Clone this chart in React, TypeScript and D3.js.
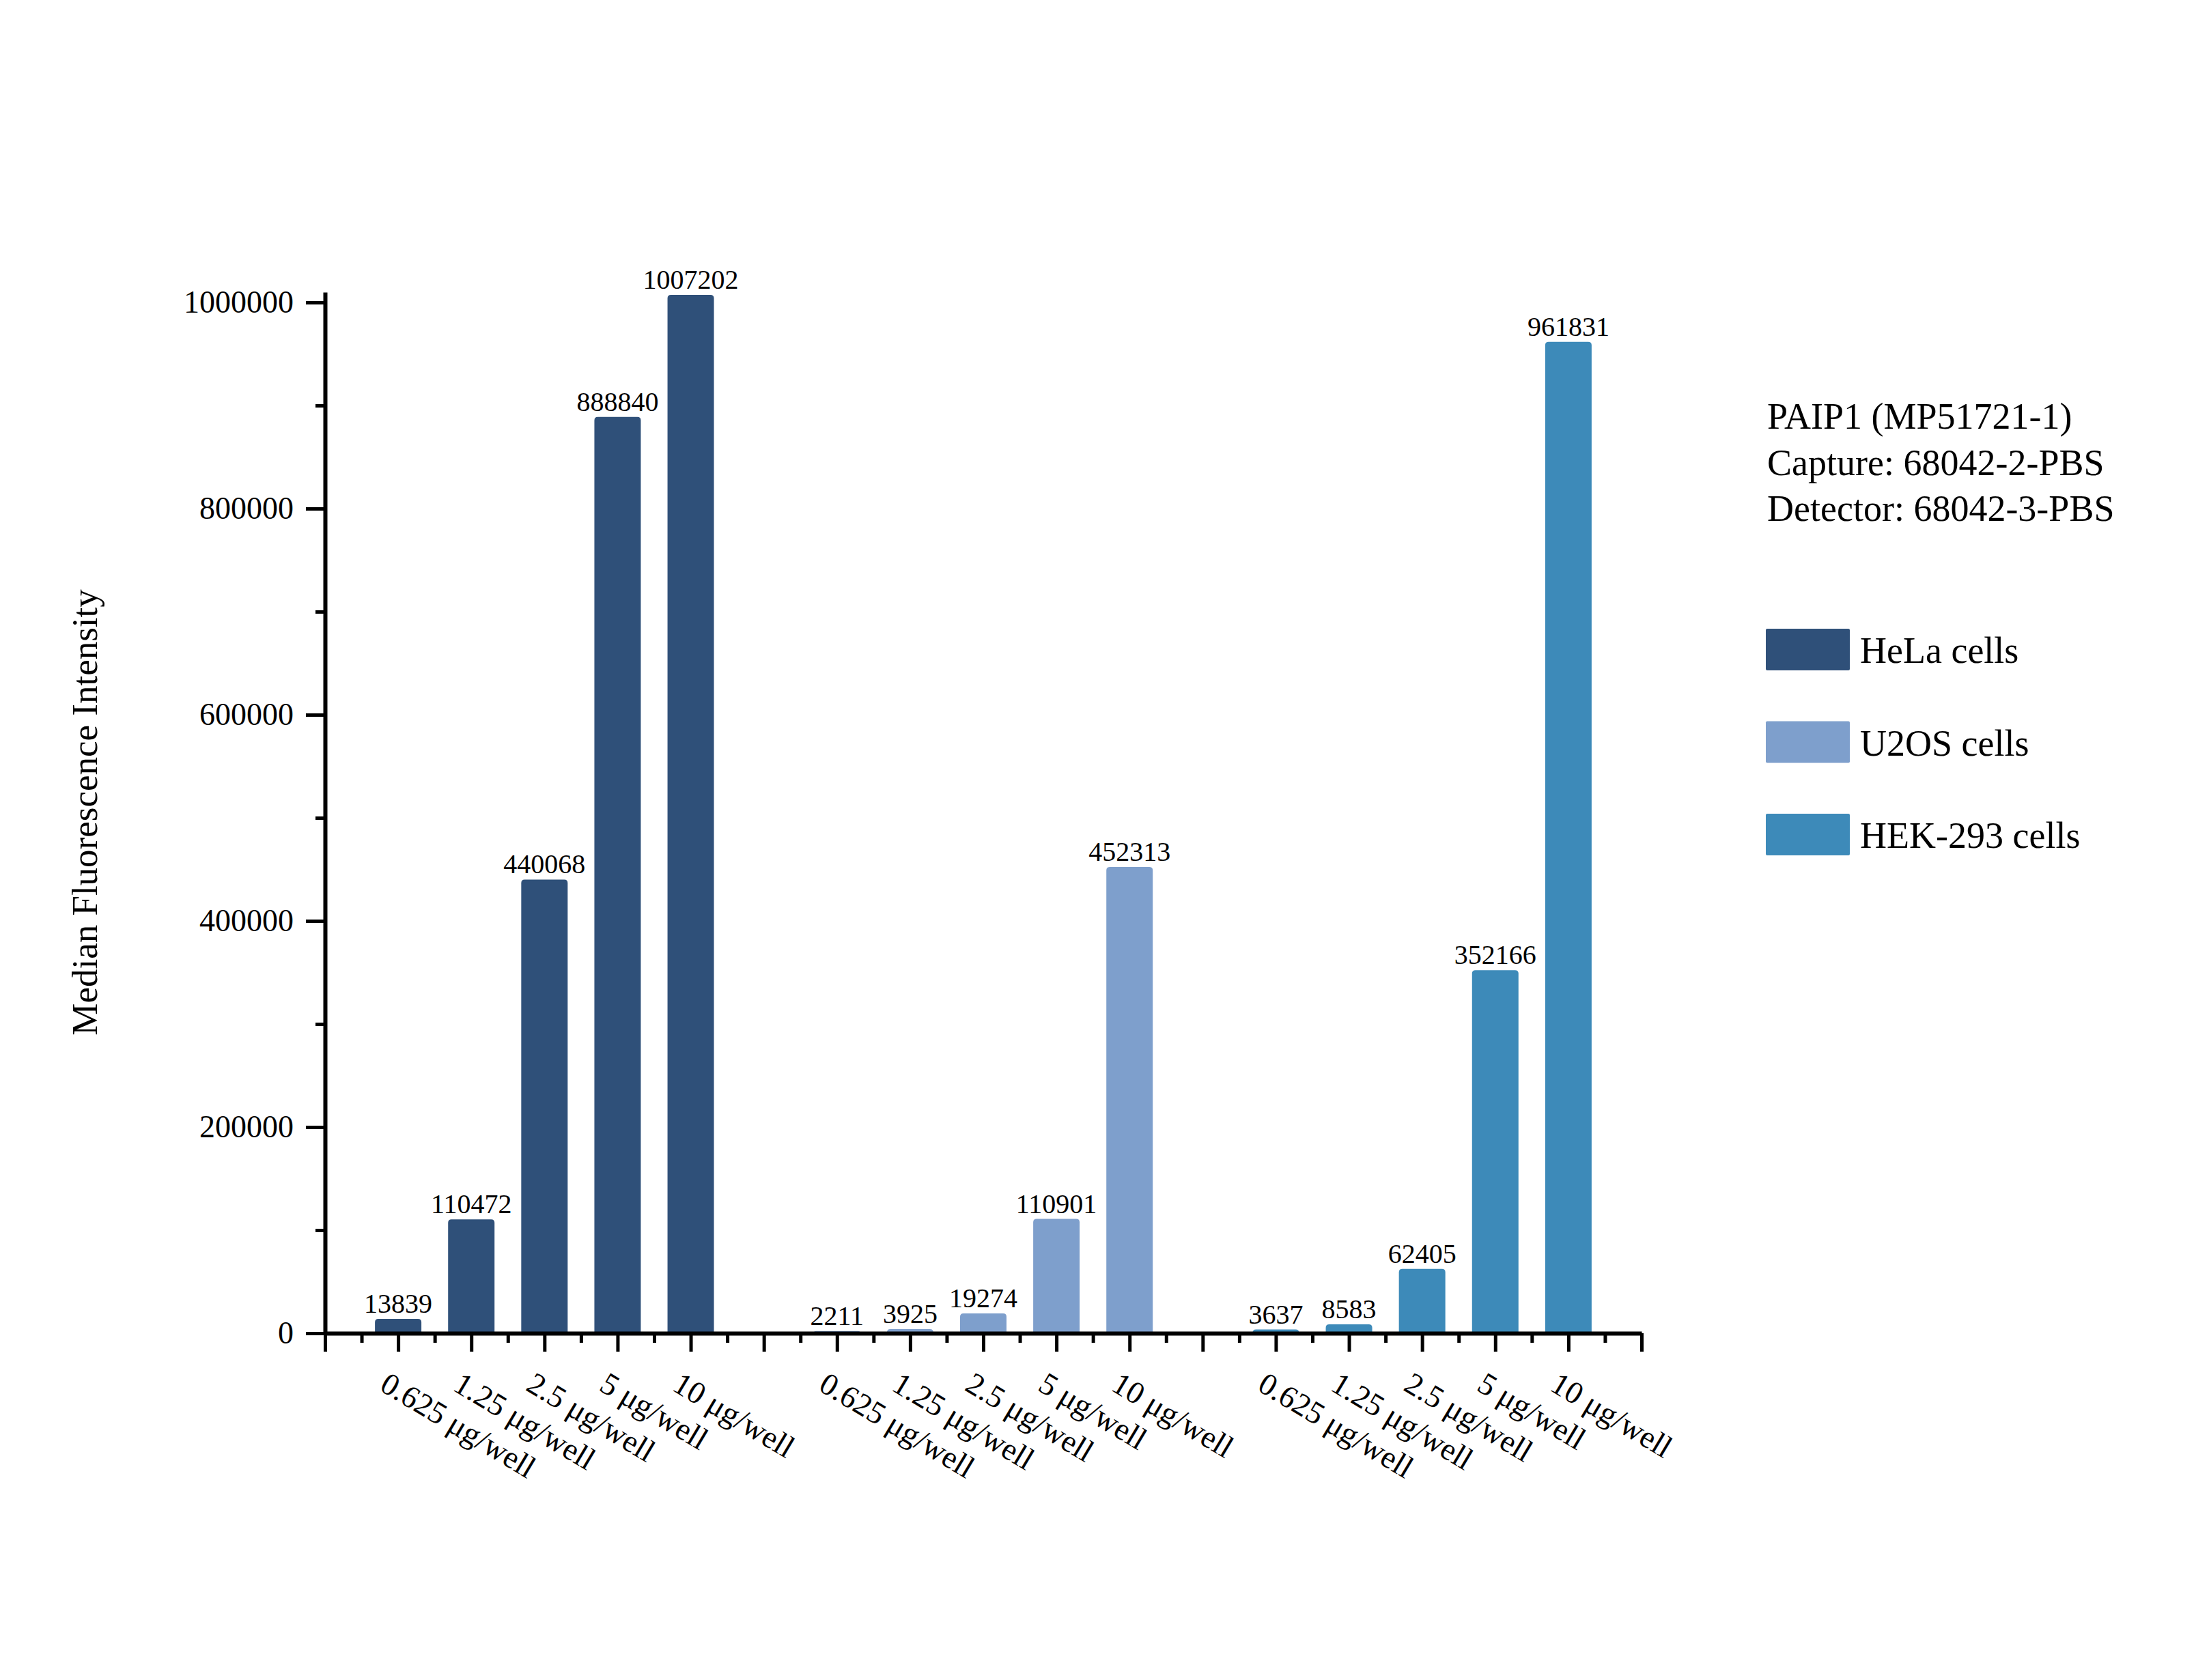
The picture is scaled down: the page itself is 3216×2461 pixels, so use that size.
import { useRef, useEffect } from "react";
import * as d3 from "d3";

const doses = ["0.625 μg/well", "1.25 μg/well", "2.5 μg/well", "5 μg/well", "10 μg/well"];
const cellLines = ["HeLa cells", "U2OS cells", "HEK-293 cells"];
const helaValues = [13839, 110472, 440068, 888840, 1007202];
const u2osValues = [2211, 3925, 19274, 110901, 452313];
const hekValues = [3637, 8583, 62405, 352166, 961831];
const cellColors = ["#2f5079", "#7e9fcc", "#3d8ab9"];
const yTicks = [0, 200000, 400000, 600000, 800000, 1000000];
const infoLines = ["PAIP1 (MP51721-1)", "Capture: 68042-2-PBS", "Detector: 68042-3-PBS"];

const W = 3216;
const H = 2461;
const FONT = "'Liberation Serif', 'Times New Roman', serif";

// rect with rounded top corners only
const topRounded = (x0, y0, w, h, r) => {
  const rr = Math.min(r, h, w / 2);
  return `M${x0},${y0 + h}V${y0 + rr}Q${x0},${y0} ${x0 + rr},${y0}H${x0 + w - rr}Q${x0 + w},${y0} ${x0 + w},${y0 + rr}V${y0 + h}Z`;
};

const App = () => {
  const svgRef = useRef(null);

  useEffect(() => {
    const svg = d3.select(svgRef.current);
    svg.selectAll("*").remove();

    const seriesValues = [helaValues, u2osValues, hekValues];
    // each cell line gets 5 slots, with an empty slot between groups
    const bars = seriesValues.flatMap((vals, g) =>
      vals.map((v, i) => ({ slot: g * 6 + i + 1, value: v, group: g, dose: doses[i] }))
    );

    const x = d3.scaleLinear().domain([0, 18]).range([476, 2404]);
    const y = d3.scaleLinear().domain([0, 1010000]).range([1953, 1953 - 1510 * 1.01]);
    const barW = 68;

    svg.append("rect").attr("width", W).attr("height", H).attr("fill", "white");

    // bars
    svg
      .append("g")
      .selectAll("path")
      .data(bars)
      .enter()
      .append("path")
      .attr("d", (d) => topRounded(x(d.slot) - barW / 2, y(d.value), barW, y(0) - y(d.value), 5))
      .attr("fill", (d) => cellColors[d.group]);

    // value labels on top of bars
    svg
      .append("g")
      .selectAll("text")
      .data(bars)
      .enter()
      .append("text")
      .attr("x", (d) => x(d.slot))
      .attr("y", (d) => y(d.value) - 9)
      .attr("text-anchor", "middle")
      .attr("font-family", FONT)
      .attr("font-size", 40)
      .attr("fill", "#000")
      .text((d) => d.value);

    // y axis
    const yAxis = svg
      .append("g")
      .attr("transform", "translate(476,0)")
      .call(d3.axisLeft(y).tickValues(yTicks).tickSize(28).tickSizeOuter(0).tickPadding(18).tickFormat(d3.format("d")));
    yAxis.select(".domain").attr("stroke", "#000").attr("stroke-width", 6);
    yAxis.selectAll(".tick line").attr("stroke", "#000").attr("stroke-width", 5);
    yAxis.selectAll(".tick text").attr("font-family", FONT).attr("font-size", 46).attr("fill", "#000");

    const yMinor = svg
      .append("g")
      .attr("transform", "translate(476,0)")
      .call(d3.axisLeft(y).tickValues(d3.range(100000, 1000000, 200000)).tickSize(14).tickFormat(() => ""));
    yMinor.select(".domain").remove();
    yMinor.selectAll(".tick line").attr("stroke", "#000").attr("stroke-width", 5);

    // x axis
    const xAxis = svg
      .append("g")
      .attr("transform", `translate(0,${y(0)})`)
      .call(d3.axisBottom(x).tickValues(d3.range(0, 19)).tickSize(27).tickSizeOuter(0).tickFormat(() => ""));
    xAxis.select(".domain").attr("stroke", "#000").attr("stroke-width", 6);
    xAxis.selectAll(".tick line").attr("stroke", "#000").attr("stroke-width", 5);

    const xMinor = svg
      .append("g")
      .attr("transform", `translate(0,${y(0)})`)
      .call(d3.axisBottom(x).tickValues(d3.range(0.5, 18, 1)).tickSize(14).tickFormat(() => ""));
    xMinor.select(".domain").remove();
    xMinor.selectAll(".tick line").attr("stroke", "#000").attr("stroke-width", 5);

    // rotated dose labels
    svg
      .append("g")
      .selectAll("text")
      .data(bars)
      .enter()
      .append("text")
      .attr("transform", (d) => `translate(${x(d.slot) - 12},${y(0) + 54}) rotate(31)`)
      .attr("text-anchor", "start")
      .attr("dy", "0.72em")
      .attr("font-family", FONT)
      .attr("font-size", 46)
      .attr("fill", "#000")
      .text((d) => d.dose);

    // y axis title
    svg
      .append("text")
      .attr("transform", "translate(142,1190) rotate(-90)")
      .attr("text-anchor", "middle")
      .attr("font-family", FONT)
      .attr("font-size", 53)
      .attr("fill", "#000")
      .text("Median Fluorescence Intensity");

    // antibody info
    svg
      .append("g")
      .selectAll("text")
      .data(infoLines)
      .enter()
      .append("text")
      .attr("x", 2588)
      .attr("y", (d, i) => 628 + i * 67.5)
      .attr("font-family", FONT)
      .attr("font-size", 54)
      .attr("fill", "#000")
      .text((d) => d);

    // legend
    const legend = svg
      .append("g")
      .selectAll("g")
      .data(cellLines)
      .enter()
      .append("g")
      .attr("transform", (d, i) => `translate(2586,${921 + i * 135.5})`);
    legend
      .append("rect")
      .attr("width", 123)
      .attr("height", 61)
      .attr("rx", 2)
      .attr("fill", (d, i) => cellColors[i]);
    legend
      .append("text")
      .attr("x", 138)
      .attr("y", 50)
      .attr("font-family", FONT)
      .attr("font-size", 54)
      .attr("fill", "#000")
      .text((d) => d);
  }, []);

  return (
    <svg
      ref={svgRef}
      width={W}
      height={H}
      style={{ position: "absolute", left: 0, top: 0, display: "block" }}
    ></svg>
  );
};

export default App;
